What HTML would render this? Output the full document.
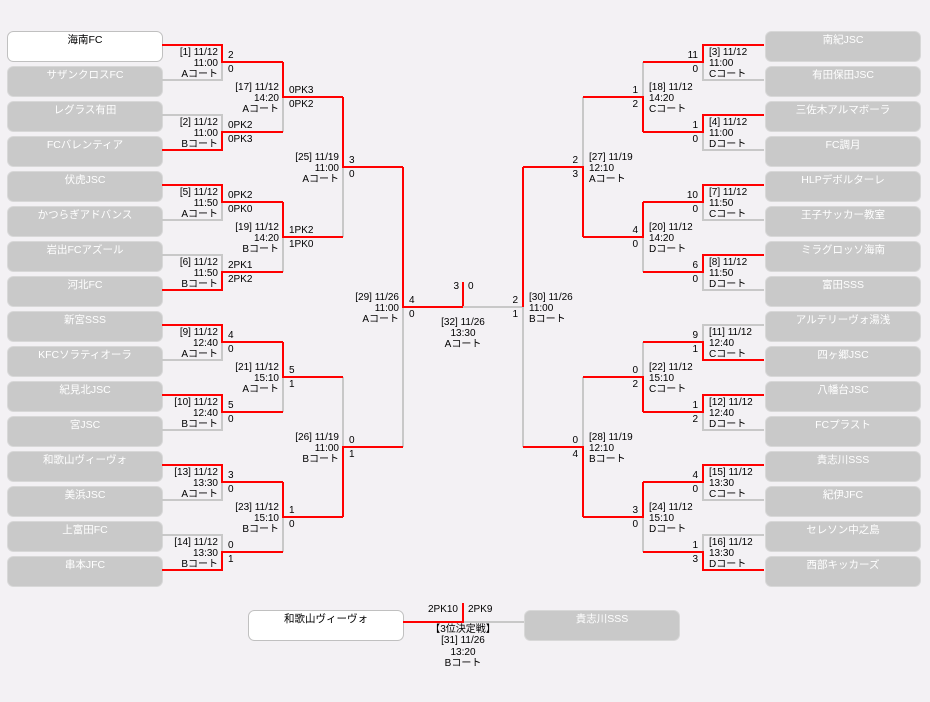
<!DOCTYPE html>
<html><head><meta charset="utf-8"><style>
html,body{margin:0;padding:0;background:#f3f1f4;}
svg{display:block;font-family:"Liberation Sans","Noto Sans CJK JP",sans-serif;}
.r{fill:none;stroke:#f00;stroke-width:2}
.g{fill:none;stroke:#c8c8c8;stroke-width:2}
.t{font-size:10px;fill:#000}
.e{text-anchor:end}
.m{text-anchor:middle}
.bg{fill:#c9c9c9;stroke:#d8d8d8;stroke-width:1}
.bw{fill:#fff;stroke:#c0c0c0;stroke-width:1}
.n{font-size:10.5px;text-anchor:middle;fill:#fff}
.nb{font-size:10.5px;text-anchor:middle;fill:#000}
</style></head><body>
<svg width="930" height="702" viewBox="0 0 930 702">
<rect width="930" height="702" fill="#f3f1f4"/>
<!-- left boxes -->
<g>
<rect class="bw" x="7.5" y="31.5" width="155" height="30" rx="6"/>
<rect class="bg" x="7.5" y="66.5" width="155" height="30" rx="6"/>
<rect class="bg" x="7.5" y="101.5" width="155" height="30" rx="6"/>
<rect class="bg" x="7.5" y="136.5" width="155" height="30" rx="6"/>
<rect class="bg" x="7.5" y="171.5" width="155" height="30" rx="6"/>
<rect class="bg" x="7.5" y="206.5" width="155" height="30" rx="6"/>
<rect class="bg" x="7.5" y="241.5" width="155" height="30" rx="6"/>
<rect class="bg" x="7.5" y="276.5" width="155" height="30" rx="6"/>
<rect class="bg" x="7.5" y="311.5" width="155" height="30" rx="6"/>
<rect class="bg" x="7.5" y="346.5" width="155" height="30" rx="6"/>
<rect class="bg" x="7.5" y="381.5" width="155" height="30" rx="6"/>
<rect class="bg" x="7.5" y="416.5" width="155" height="30" rx="6"/>
<rect class="bg" x="7.5" y="451.5" width="155" height="30" rx="6"/>
<rect class="bg" x="7.5" y="486.5" width="155" height="30" rx="6"/>
<rect class="bg" x="7.5" y="521.5" width="155" height="30" rx="6"/>
<rect class="bg" x="7.5" y="556.5" width="155" height="30" rx="6"/>
<text class="nb" x="85" y="43">海南FC</text>
<text class="n" x="85" y="78">サザンクロスFC</text>
<text class="n" x="85" y="113">レグラス有田</text>
<text class="n" x="85" y="148">FCバレンティア</text>
<text class="n" x="85" y="183">伏虎JSC</text>
<text class="n" x="85" y="218">かつらぎアドバンス</text>
<text class="n" x="85" y="253">岩出FCアズール</text>
<text class="n" x="85" y="288">河北FC</text>
<text class="n" x="85" y="323">新宮SSS</text>
<text class="n" x="85" y="358">KFCソラティオーラ</text>
<text class="n" x="85" y="393">紀見北JSC</text>
<text class="n" x="85" y="428">宮JSC</text>
<text class="n" x="85" y="463">和歌山ヴィーヴォ</text>
<text class="n" x="85" y="498">美浜JSC</text>
<text class="n" x="85" y="533">上富田FC</text>
<text class="n" x="85" y="568">串本JFC</text>
</g>
<!-- right boxes -->
<g>
<rect class="bg" x="765.5" y="31.5" width="155" height="30" rx="6"/>
<rect class="bg" x="765.5" y="66.5" width="155" height="30" rx="6"/>
<rect class="bg" x="765.5" y="101.5" width="155" height="30" rx="6"/>
<rect class="bg" x="765.5" y="136.5" width="155" height="30" rx="6"/>
<rect class="bg" x="765.5" y="171.5" width="155" height="30" rx="6"/>
<rect class="bg" x="765.5" y="206.5" width="155" height="30" rx="6"/>
<rect class="bg" x="765.5" y="241.5" width="155" height="30" rx="6"/>
<rect class="bg" x="765.5" y="276.5" width="155" height="30" rx="6"/>
<rect class="bg" x="765.5" y="311.5" width="155" height="30" rx="6"/>
<rect class="bg" x="765.5" y="346.5" width="155" height="30" rx="6"/>
<rect class="bg" x="765.5" y="381.5" width="155" height="30" rx="6"/>
<rect class="bg" x="765.5" y="416.5" width="155" height="30" rx="6"/>
<rect class="bg" x="765.5" y="451.5" width="155" height="30" rx="6"/>
<rect class="bg" x="765.5" y="486.5" width="155" height="30" rx="6"/>
<rect class="bg" x="765.5" y="521.5" width="155" height="30" rx="6"/>
<rect class="bg" x="765.5" y="556.5" width="155" height="30" rx="6"/>
<text class="n" x="843" y="43">南紀JSC</text>
<text class="n" x="843" y="78">有田保田JSC</text>
<text class="n" x="843" y="113">三佐木アルマボーラ</text>
<text class="n" x="843" y="148">FC調月</text>
<text class="n" x="843" y="183">HLPデボルターレ</text>
<text class="n" x="843" y="218">王子サッカー教室</text>
<text class="n" x="843" y="253">ミラグロッソ海南</text>
<text class="n" x="843" y="288">富田SSS</text>
<text class="n" x="843" y="323">アルテリーヴォ湯浅</text>
<text class="n" x="843" y="358">四ヶ郷JSC</text>
<text class="n" x="843" y="393">八幡台JSC</text>
<text class="n" x="843" y="428">FCプラスト</text>
<text class="n" x="843" y="463">貴志川SSS</text>
<text class="n" x="843" y="498">紀伊JFC</text>
<text class="n" x="843" y="533">セレソン中之島</text>
<text class="n" x="843" y="568">西部キッカーズ</text>
</g>
<!-- bottom 3rd place boxes -->
<rect class="bw" x="248.5" y="610.5" width="155" height="30" rx="6"/>
<rect class="bg" x="524.5" y="610.5" width="155" height="30" rx="6"/>
<text class="nb" x="326" y="622">和歌山ヴィーヴォ</text>
<text class="n" x="602" y="622">貴志川SSS</text>

<!-- LEFT LINES -->
<!-- grey first -->
<path class="g" d="M162 80H222V62 M162 115H222V132 M162 220H222V202 M162 255H222V272 M162 360H222V342 M162 430H222V412 M162 500H222V482 M162 535H222V552"/>
<path class="g" d="M283 97V132 M283 237V272 M283 377V412 M283 517V552"/>
<path class="g" d="M343 167V237 M343 447V377 M403 307V447"/>
<path class="r" d="M162 45H222V62H283 M162 150H222V132H283 M162 185H222V202H283 M162 290H222V272H283 M162 325H222V342H283 M162 395H222V412H283 M162 465H222V482H283 M162 570H222V552H283"/>
<path class="r" d="M283 62V97H343 M283 202V237H343 M283 342V377H343 M283 482V517H343 M283 132V132"/>
<path class="r" d="M283 132H283"/>
<path class="r" d="M343 97V167H403 M343 517V447H403 M343 237H343"/>
<path class="r" d="M403 167V307H463 M463 282V307"/>
<!-- RIGHT LINES -->
<path class="g" d="M764 80H703V62 M764 150H703V132 M764 220H703V202 M764 290H703V272 M764 325H703V342 M764 430H703V412 M764 500H703V482 M764 535H703V552"/>
<path class="g" d="M643 62V97 M643 237V272 M643 342V377 M643 517V552"/>
<path class="g" d="M583 97V167 M583 377V447 M523 307V447 M523 307H463"/>
<path class="r" d="M764 45H703V62H643 M764 115H703V132H643 M764 185H703V202H643 M764 255H703V272H643 M764 360H703V342H643 M764 395H703V412H643 M764 465H703V482H643 M764 570H703V552H643"/>
<path class="r" d="M643 132V97H583 M643 202V237H583 M643 412V377H583 M643 482V517H583"/>
<path class="r" d="M583 237V167H523 M583 517V447H523"/>
<path class="r" d="M523 167V307"/>
<!-- 3rd place -->
<path class="g" d="M463 622H524"/>
<path class="r" d="M403 622H463V603"/>

<!-- LEFT R1 texts -->
<g class="t">
<text class="e" x="218" y="55">[1] 11/12</text><text class="e" x="218" y="66">11:00</text><text class="e" x="218" y="77">Aコート</text>
<text x="228" y="58">2</text><text x="228" y="72">0</text>
<text class="e" x="218" y="125">[2] 11/12</text><text class="e" x="218" y="136">11:00</text><text class="e" x="218" y="147">Bコート</text>
<text x="228" y="128">0PK2</text><text x="228" y="142">0PK3</text>
<text class="e" x="218" y="195">[5] 11/12</text><text class="e" x="218" y="206">11:50</text><text class="e" x="218" y="217">Aコート</text>
<text x="228" y="198">0PK2</text><text x="228" y="212">0PK0</text>
<text class="e" x="218" y="265">[6] 11/12</text><text class="e" x="218" y="276">11:50</text><text class="e" x="218" y="287">Bコート</text>
<text x="228" y="268">2PK1</text><text x="228" y="282">2PK2</text>
<text class="e" x="218" y="335">[9] 11/12</text><text class="e" x="218" y="346">12:40</text><text class="e" x="218" y="357">Aコート</text>
<text x="228" y="338">4</text><text x="228" y="352">0</text>
<text class="e" x="218" y="405">[10] 11/12</text><text class="e" x="218" y="416">12:40</text><text class="e" x="218" y="427">Bコート</text>
<text x="228" y="408">5</text><text x="228" y="422">0</text>
<text class="e" x="218" y="475">[13] 11/12</text><text class="e" x="218" y="486">13:30</text><text class="e" x="218" y="497">Aコート</text>
<text x="228" y="478">3</text><text x="228" y="492">0</text>
<text class="e" x="218" y="545">[14] 11/12</text><text class="e" x="218" y="556">13:30</text><text class="e" x="218" y="567">Bコート</text>
<text x="228" y="548">0</text><text x="228" y="562">1</text>
<!-- R2 -->
<text class="e" x="279" y="90">[17] 11/12</text><text class="e" x="279" y="101">14:20</text><text class="e" x="279" y="112">Aコート</text>
<text x="289" y="93">0PK3</text><text x="289" y="107">0PK2</text>
<text class="e" x="279" y="230">[19] 11/12</text><text class="e" x="279" y="241">14:20</text><text class="e" x="279" y="252">Bコート</text>
<text x="289" y="233">1PK2</text><text x="289" y="247">1PK0</text>
<text class="e" x="279" y="370">[21] 11/12</text><text class="e" x="279" y="381">15:10</text><text class="e" x="279" y="392">Aコート</text>
<text x="289" y="373">5</text><text x="289" y="387">1</text>
<text class="e" x="279" y="510">[23] 11/12</text><text class="e" x="279" y="521">15:10</text><text class="e" x="279" y="532">Bコート</text>
<text x="289" y="513">1</text><text x="289" y="527">0</text>
<!-- R3 -->
<text class="e" x="339" y="160">[25] 11/19</text><text class="e" x="339" y="171">11:00</text><text class="e" x="339" y="182">Aコート</text>
<text x="349" y="163">3</text><text x="349" y="177">0</text>
<text class="e" x="339" y="440">[26] 11/19</text><text class="e" x="339" y="451">11:00</text><text class="e" x="339" y="462">Bコート</text>
<text x="349" y="443">0</text><text x="349" y="457">1</text>
<!-- R4 left -->
<text class="e" x="399" y="300">[29] 11/26</text><text class="e" x="399" y="311">11:00</text><text class="e" x="399" y="322">Aコート</text>
<text x="409" y="303">4</text><text x="409" y="317">0</text>
<!-- final -->
<text class="e" x="459" y="289">3</text><text x="468" y="289">0</text>
<text class="m" x="463" y="325">[32] 11/26</text><text class="m" x="463" y="336">13:30</text><text class="m" x="463" y="347">Aコート</text>
<!-- R4 right -->
<text x="529" y="300">[30] 11/26</text><text x="529" y="311">11:00</text><text x="529" y="322">Bコート</text>
<text class="e" x="518" y="303">2</text><text class="e" x="518" y="317">1</text>

<!-- RIGHT R1 -->
<text x="709" y="55">[3] 11/12</text><text x="709" y="66">11:00</text><text x="709" y="77">Cコート</text>
<text class="e" x="698" y="58">11</text><text class="e" x="698" y="72">0</text>
<text x="709" y="125">[4] 11/12</text><text x="709" y="136">11:00</text><text x="709" y="147">Dコート</text>
<text class="e" x="698" y="128">1</text><text class="e" x="698" y="142">0</text>
<text x="709" y="195">[7] 11/12</text><text x="709" y="206">11:50</text><text x="709" y="217">Cコート</text>
<text class="e" x="698" y="198">10</text><text class="e" x="698" y="212">0</text>
<text x="709" y="265">[8] 11/12</text><text x="709" y="276">11:50</text><text x="709" y="287">Dコート</text>
<text class="e" x="698" y="268">6</text><text class="e" x="698" y="282">0</text>
<text x="709" y="335">[11] 11/12</text><text x="709" y="346">12:40</text><text x="709" y="357">Cコート</text>
<text class="e" x="698" y="338">9</text><text class="e" x="698" y="352">1</text>
<text x="709" y="405">[12] 11/12</text><text x="709" y="416">12:40</text><text x="709" y="427">Dコート</text>
<text class="e" x="698" y="408">1</text><text class="e" x="698" y="422">2</text>
<text x="709" y="475">[15] 11/12</text><text x="709" y="486">13:30</text><text x="709" y="497">Cコート</text>
<text class="e" x="698" y="478">4</text><text class="e" x="698" y="492">0</text>
<text x="709" y="545">[16] 11/12</text><text x="709" y="556">13:30</text><text x="709" y="567">Dコート</text>
<text class="e" x="698" y="548">1</text><text class="e" x="698" y="562">3</text>
<!-- right R2 -->
<text x="649" y="90">[18] 11/12</text><text x="649" y="101">14:20</text><text x="649" y="112">Cコート</text>
<text class="e" x="638" y="93">1</text><text class="e" x="638" y="107">2</text>
<text x="649" y="230">[20] 11/12</text><text x="649" y="241">14:20</text><text x="649" y="252">Dコート</text>
<text class="e" x="638" y="233">4</text><text class="e" x="638" y="247">0</text>
<text x="649" y="370">[22] 11/12</text><text x="649" y="381">15:10</text><text x="649" y="392">Cコート</text>
<text class="e" x="638" y="373">0</text><text class="e" x="638" y="387">2</text>
<text x="649" y="510">[24] 11/12</text><text x="649" y="521">15:10</text><text x="649" y="532">Dコート</text>
<text class="e" x="638" y="513">3</text><text class="e" x="638" y="527">0</text>
<!-- right R3 -->
<text x="589" y="160">[27] 11/19</text><text x="589" y="171">12:10</text><text x="589" y="182">Aコート</text>
<text class="e" x="578" y="163">2</text><text class="e" x="578" y="177">3</text>
<text x="589" y="440">[28] 11/19</text><text x="589" y="451">12:10</text><text x="589" y="462">Bコート</text>
<text class="e" x="578" y="443">0</text><text class="e" x="578" y="457">4</text>
<!-- 3rd place -->
<text class="e" x="458" y="612">2PK10</text><text x="468" y="612">2PK9</text>
<text class="m" x="463" y="632">【3位決定戦】</text>
<text class="m" x="463" y="643">[31] 11/26</text>
<text class="m" x="463" y="655">13:20</text>
<text class="m" x="463" y="666">Bコート</text>
</g>
</svg>
</body></html>
